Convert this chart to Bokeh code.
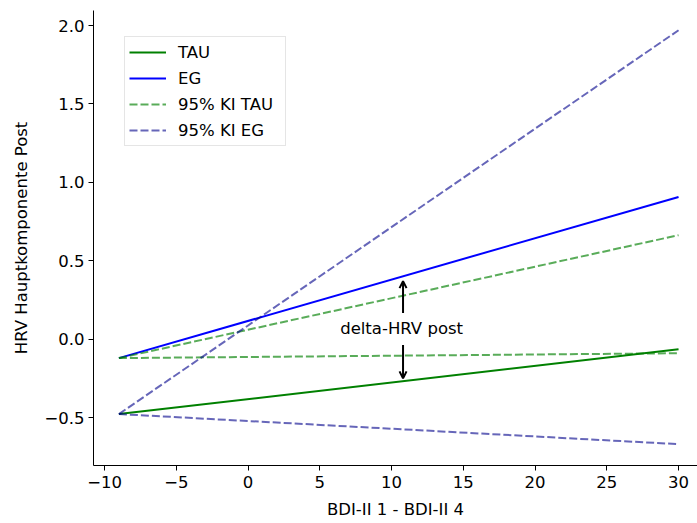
from bokeh.plotting import figure
from bokeh.models import (Range1d, FixedTicker, Legend, LegendItem, Arrow, OpenHead)
from bokeh.core.properties import value
from bokeh.embed import file_html
from bokeh.resources import INLINE

# --- data ---
x_ends = [-9, 30]
tau = [-0.478, -0.064]
eg = [-0.121, 0.907]
ki_tau_upper = [-0.121, 0.663]
ki_tau_lower = [-0.121, -0.09]
ki_eg_upper = [-0.478, 1.97]
ki_eg_lower = [-0.478, -0.67]

x_ticks = [-10, -5, 0, 5, 10, 15, 20, 25, 30]
y_ticks = [-0.5, 0.0, 0.5, 1.0, 1.5, 2.0]

annot_text = "delta-HRV post"
annot_x = 10.7
annot_y = 0.07
arrow_up = (10.8, 0.166, 0.37)
arrow_down = (10.8, -0.038, -0.25)

FONT = "DejaVu Sans"
FS = "16.5px"

p = figure(width=697, height=523, output_backend="svg", toolbar_location=None,
           x_range=Range1d(-10.77, 31.32), y_range=Range1d(-0.806, 2.096),
           min_border_left=93, min_border_right=0, min_border_top=10, min_border_bottom=58)
p.outline_line_color = None
p.grid.visible = False
p.background_fill_color = "white"
p.border_fill_color = "white"

r_tau = p.line(x_ends, tau, line_color="#008000", line_width=2)
r_eg = p.line(x_ends, eg, line_color="#0000ff", line_width=2)
r_kt1 = p.line(x_ends, ki_tau_upper, line_color="#008000", line_alpha=0.65, line_width=2, line_dash="8 3")
r_kt2 = p.line(x_ends, ki_tau_lower, line_color="#008000", line_alpha=0.65, line_width=2, line_dash="8 3")
r_ke1 = p.line(x_ends, ki_eg_upper, line_color="#00008b", line_alpha=0.6, line_width=2, line_dash="8 3")
r_ke2 = p.line(x_ends, ki_eg_lower, line_color="#00008b", line_alpha=0.6, line_width=2, line_dash="8 3")

p.text(x=[annot_x], y=[annot_y], text=[annot_text], text_align="center", text_baseline="middle",
       text_font=value(FONT), text_font_size=FS, text_color="black")

for ax_x, y0, y1 in [arrow_up, arrow_down]:
    p.add_layout(Arrow(x_start=ax_x, y_start=y0, x_end=ax_x, y_end=y1, line_width=2,
                       line_color="black",
                       end=OpenHead(size=7, line_width=2, line_color="black")))

for ax in (p.xaxis[0], p.yaxis[0]):
    ax.major_label_text_font = FONT
    ax.major_label_text_font_size = FS
    ax.major_label_text_color = "black"
    ax.axis_label_text_font = FONT
    ax.axis_label_text_font_size = FS
    ax.axis_label_text_font_style = "normal"
    ax.axis_label_text_color = "black"
    ax.minor_tick_line_color = None
    ax.major_tick_out = 5
    ax.major_tick_in = 0
    ax.axis_line_color = "black"
    ax.major_tick_line_color = "black"

p.xaxis[0].major_label_standoff = 5
p.yaxis[0].major_label_standoff = 4
p.xaxis[0].ticker = FixedTicker(ticks=x_ticks)
p.yaxis[0].ticker = FixedTicker(ticks=y_ticks)
p.xaxis[0].major_label_overrides = {t: (str(t).replace("-", "\u2212")) for t in x_ticks}
p.yaxis[0].major_label_overrides = {t: (f"{t:.1f}".replace("-", "\u2212")) for t in y_ticks}
p.xaxis[0].axis_label = "BDI-II 1 - BDI-II 4"
p.yaxis[0].axis_label = "HRV Hauptkomponente Post"
p.xaxis[0].axis_label_standoff = 9
p.yaxis[0].axis_label_standoff = 10

legend = Legend(items=[
    LegendItem(label="TAU", renderers=[r_tau]),
    LegendItem(label="EG", renderers=[r_eg]),
    LegendItem(label="95% KI TAU", renderers=[r_kt1]),
    LegendItem(label="95% KI EG", renderers=[r_ke1]),
], location=(31, 319))
legend.label_text_font = FONT
legend.label_text_font_size = FS
legend.label_text_color = "black"
legend.glyph_width = 37
legend.glyph_height = 22
legend.label_standoff = 12
legend.spacing = 4
legend.padding = 4
legend.margin = 0
legend.label_width = 103
legend.border_line_color = "#cccccc"
legend.border_line_width = 1
legend.background_fill_alpha = 0.8
p.add_layout(legend)

open("out.html", "w").write(file_html(p, INLINE))
